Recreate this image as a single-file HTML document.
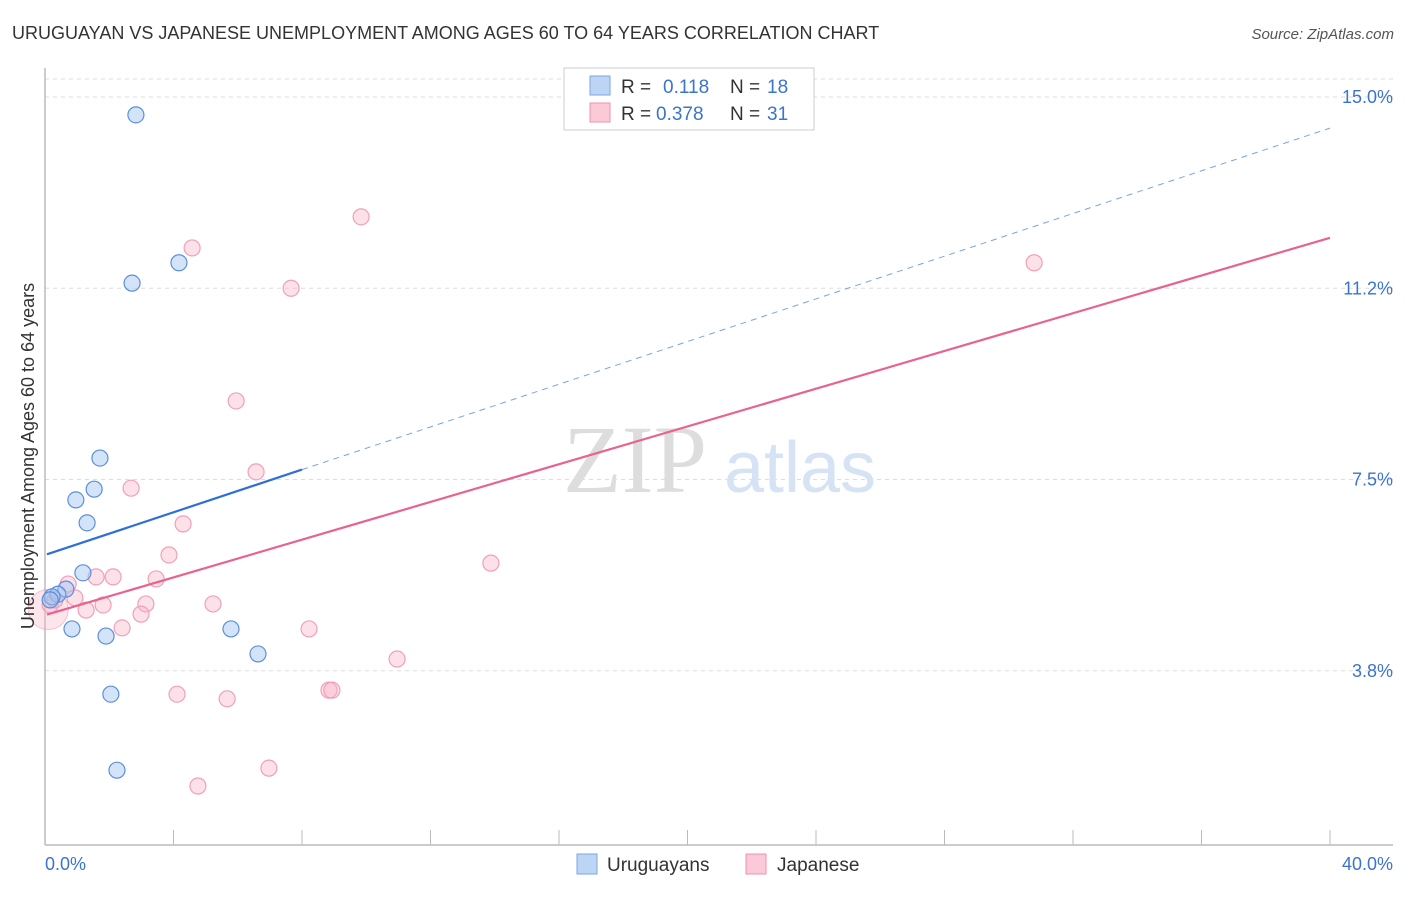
<!DOCTYPE html>
<html><head><meta charset="utf-8"><style>
body{margin:0;background:#fff;font-family:"Liberation Sans",sans-serif}
</style></head><body>
<svg width="1406" height="892">
<text x="12" y="39" font-size="18" fill="#333">URUGUAYAN VS JAPANESE UNEMPLOYMENT AMONG AGES 60 TO 64 YEARS CORRELATION CHART</text>
<text x="1394" y="39" font-size="15" fill="#555" text-anchor="end" font-style="italic">Source: ZipAtlas.com</text>
<g id="grid"></g>
<text x="635" y="492" font-size="96" fill="#ddd" font-family="Liberation Serif,serif" text-anchor="middle">ZIP</text>
<text x="800" y="492" font-size="72" fill="#d5e3f5" text-anchor="middle">atlas</text>
<g id="marks"></g>
<text transform="translate(34,456) rotate(-90)" font-size="18" fill="#333" text-anchor="middle">Unemployment Among Ages 60 to 64 years</text>
<text x="45" y="870" font-size="18" fill="#3b73d0">0.0%</text>
<text x="1393" y="870" font-size="18" fill="#3b73d0" text-anchor="end">40.0%</text>
<g>
<rect x="564" y="68" width="250" height="62" fill="#fff" stroke="#ccc"/>
<rect x="590" y="76" width="20" height="19" fill="#bcd5f5" stroke="#7ba6e0"/>
<rect x="590" y="103" width="20" height="19" fill="#fcc9d8" stroke="#f090ae"/>
<text x="621" y="93" font-size="19" fill="#333">R = </text><text x="663" y="93" font-size="19" fill="#3b73d0">0.118</text>
<text x="730" y="93" font-size="19" fill="#333">N = </text><text x="767" y="93" font-size="19" fill="#3b73d0">18</text>
<text x="621" y="120" font-size="19" fill="#333">R = </text><text x="656" y="120" font-size="19" fill="#3b73d0">0.378</text>
<text x="730" y="120" font-size="19" fill="#333">N = </text><text x="767" y="120" font-size="19" fill="#3b73d0">31</text>
</g>
<g>
<rect x="577" y="854" width="20" height="20" fill="#bcd5f5" stroke="#7ba6e0"/>
<text x="607" y="871" font-size="19" fill="#333">Uruguayans</text>
<rect x="746" y="854" width="20" height="20" fill="#fcc9d8" stroke="#f090ae"/>
<text x="777" y="871" font-size="19" fill="#333">Japanese</text>
</g>
</svg>
<script>
const yTicks=[15.0,11.25,7.5,3.75];
const yTickLabels=["15.0%","11.2%","7.5%","3.8%"];
const xTicks=[0,4,8,12,16,20,24,28,32,36,40];
const uruX=[2.83,4.17,2.71,1.71,1.53,0.96,1.31,1.18,0.65,0.40,0.22,0.84,1.90,5.79,6.63,2.05,2.24,0.16];
const uruY=[14.65,11.75,11.35,7.92,7.31,7.10,6.65,5.67,5.35,5.25,5.20,4.57,4.43,4.57,4.08,3.29,1.80,5.14];
const japX=[9.84,4.58,7.66,5.95,6.57,2.68,4.30,3.86,13.88,3.46,2.12,1.59,0.72,3.14,5.23,1.81,1.28,2.99,2.40,8.22,10.96,4.11,5.67,8.84,8.93,6.97,4.76,30.79,0.93,0.16,0.31];
const japY=[12.65,12.04,11.25,9.04,7.65,7.33,6.63,6.02,5.86,5.55,5.59,5.59,5.45,5.06,5.06,5.04,4.94,4.86,4.59,4.57,3.98,3.29,3.20,3.37,3.37,1.84,1.49,11.75,5.18,5.04,5.14];
const uruTrend=[6.02,14.39];
const japTrend=[4.84,12.24];
const NS="http://www.w3.org/2000/svg";
const X=v=>45+v/40*1285, Y=v=>97+(15-v)*51.0;
function mk(p,t,a){const e=document.createElementNS(NS,t);for(const k in a)e.setAttribute(k,a[k]);p.appendChild(e);return e;}
const g=document.getElementById('grid'), m=document.getElementById('marks');
const topLine=mk(g,'line',{x1:45,x2:1393,y1:79,y2:79,stroke:'#ddd','stroke-dasharray':'4,4'});


yTicks.forEach((v,i)=>{
 const l=mk(g,'line',{x1:45,x2:1393,y1:Y(v),y2:Y(v),stroke:'#ddd','stroke-dasharray':'4,4'});
 
 
 const t=mk(g,'text',{x:1393,y:Y(v)+6,'font-size':18,fill:'#3b73d0','text-anchor':'end'});
 t.textContent=yTickLabels[i];
 
 
});
const ax=mk(g,'line',{x1:45,x2:45,y1:68,y2:845,stroke:'#bbb','stroke-width':1.5});


const bx=mk(g,'line',{x1:45,x2:1393,y1:845,y2:845,stroke:'#bbb','stroke-width':1.5});


xTicks.forEach(v=>{
 const l=mk(g,'line',{x1:X(v),x2:X(v),y1:830,y2:845,stroke:'#bbb'});
 
 
});
const big=mk(m,'circle',{cx:X(0.1),cy:Y(4.95),r:20,fill:'rgba(248,180,200,0.35)',stroke:'rgba(240,140,170,0.5)'});


japX.forEach((x,i)=>{
 const c=mk(m,'circle',{cx:X(x),cy:Y(japY[i]),r:8,fill:'rgba(248,180,200,0.4)',stroke:'#f0a0b8','stroke-width':1.2});
 
 
});
uruX.forEach((x,i)=>{
 const c=mk(m,'circle',{cx:X(x),cy:Y(uruY[i]),r:8,fill:'rgba(160,195,240,0.45)',stroke:'#5b8ede','stroke-width':1.2});
 
 
});
const ty=(t,x)=>t[0]+(t[1]-t[0])*x/40;
const l1=mk(m,'line',{x1:X(0.06),y1:Y(ty(uruTrend,0.06)),x2:X(8),y2:Y(ty(uruTrend,8)),stroke:'#2f6fd6','stroke-width':2.2});


const l2=mk(m,'line',{x1:X(8),y1:Y(ty(uruTrend,8)),x2:X(40),y2:Y(ty(uruTrend,40)),stroke:'#7aa3e0','stroke-width':1,'stroke-dasharray':'6,5'});


const l3=mk(m,'line',{x1:X(0.06),y1:Y(ty(japTrend,0.06)),x2:X(40),y2:Y(ty(japTrend,40)),stroke:'#e8638f','stroke-width':2.2});


</script>
</body></html>
